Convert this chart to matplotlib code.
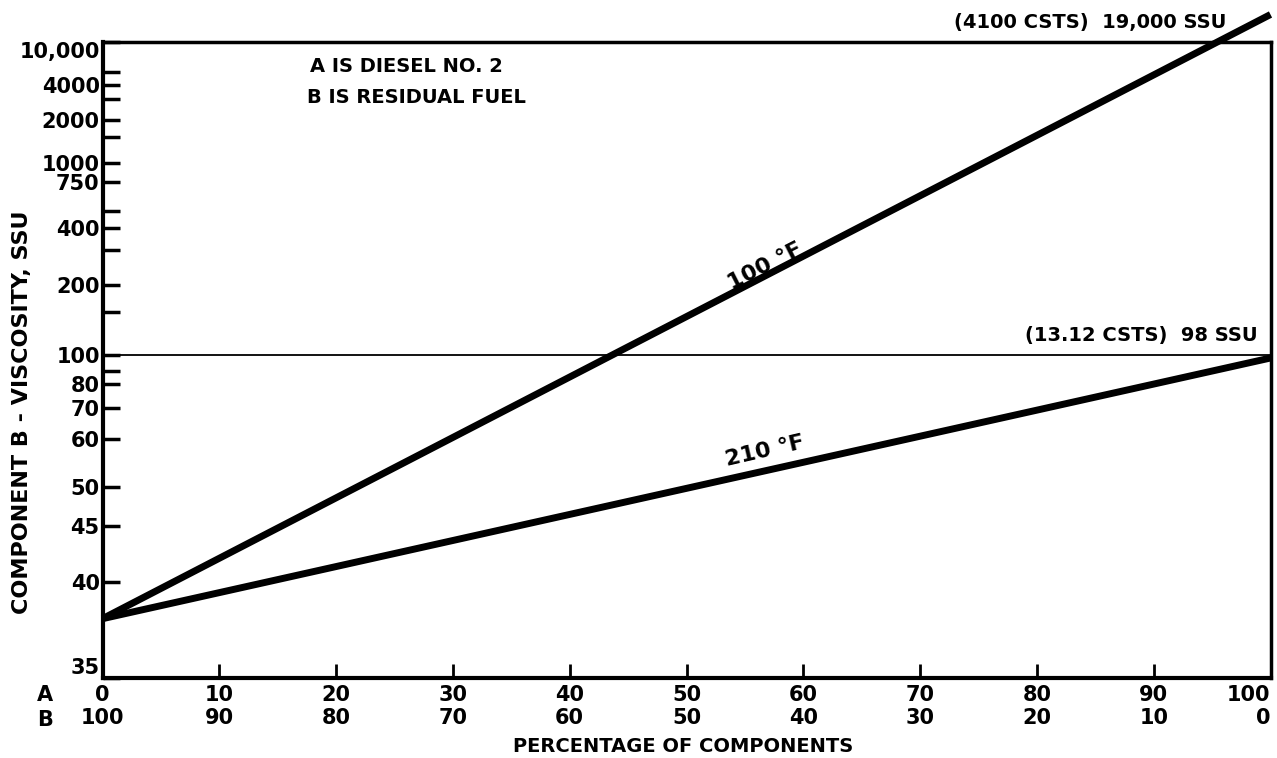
import numpy as np
import matplotlib
matplotlib.use('Agg')
import matplotlib.pyplot as plt
from matplotlib.ticker import FixedLocator, FixedFormatter, NullFormatter

plt.rcParams['font.family'] = ['DejaVu Sans']
plt.rcParams['font.weight'] = 'bold'

# blend percentages (A = diesel no. 2, B = residual fuel = 100 - A)
pct_a = [0, 100]
visc_100f = [38, 19000]   # SSU
visc_210f = [38, 98]      # SSU
ref_line = 100

# graduation of the printed viscosity axis (value -> height above 35 SSU)
scale_values = [35, 40, 45, 50, 60, 70, 80, 90, 100, 150, 200, 300, 400, 500,
                750, 1000, 1500, 2000, 3000, 4000, 5000, 10000]
scale_height = [0, 96.3, 152.3, 191.3, 238.7, 269.7, 294, 307.3, 323, 366.3, 393,
                428, 449.7, 467, 495.7, 514.7, 541.3, 558, 578.7, 593, 606.3, 636]

major_ticks = [35, 40, 45, 50, 60, 70, 80, 100, 200, 400, 750, 1000, 2000, 4000, 10000]
major_labels = ['35', '40', '45', '50', '60', '70', '80', '100', '200', '400', '750',
                '1000', '2000', '4000', '10,000']
minor_ticks = [90, 150, 300, 500, 1500, 3000, 5000]

x_ticks = list(range(0, 101, 10))

LOGS = np.log10(scale_values)
H = np.array(scale_height, dtype=float)
s_lo = (H[1] - H[0]) / (LOGS[1] - LOGS[0])
s_hi = (H[-1] - H[-2]) / (LOGS[-1] - LOGS[-2])


def fwd(v):
    lv = np.log10(np.clip(np.asarray(v, dtype=float), 1e-6, None))
    out = np.interp(lv, LOGS, H)
    out = np.where(lv > LOGS[-1], H[-1] + (lv - LOGS[-1]) * s_hi, out)
    out = np.where(lv < LOGS[0], H[0] + (lv - LOGS[0]) * s_lo, out)
    return out


def inv(h):
    h = np.asarray(h, dtype=float)
    lv = np.interp(h, H, LOGS)
    lv = np.where(h > H[-1], LOGS[-1] + (h - H[-1]) / s_hi, lv)
    lv = np.where(h < H[0], LOGS[0] + (h - H[0]) / s_lo, lv)
    return 10 ** lv


fig = plt.figure(figsize=(12.77, 7.58), dpi=100)
ax = fig.add_axes([102.5 / 1277, 1 - 678 / 758, 1168 / 1277, 636 / 758])

ax.set_yscale('function', functions=(fwd, inv))
ax.set_xlim(0, 100)
ax.set_ylim(35, 10000)

ax.plot(pct_a, visc_100f, color='black', lw=5, solid_capstyle='butt', clip_on=False, zorder=3)
ax.plot(pct_a, visc_210f, color='black', lw=5, solid_capstyle='butt', zorder=3)
ax.axhline(ref_line, color='black', lw=1.3)

ax.yaxis.set_major_locator(FixedLocator(major_ticks))
ax.yaxis.set_major_formatter(FixedFormatter(major_labels))
ax.yaxis.set_minor_locator(FixedLocator(minor_ticks))
ax.yaxis.set_minor_formatter(NullFormatter())
ax.tick_params(axis='y', which='both', direction='in', length=12, width=2.5,
               labelsize=15, pad=2)

ax.set_xticks(x_ticks)
ax.set_xticklabels([f'{a}\n{100 - a}' for a in x_ticks], linespacing=1.2)
ax.tick_params(axis='x', direction='in', length=10, width=2, labelsize=15, pad=5)

for lab in ax.get_yticklabels():
    if lab.get_text() == '10,000':
        lab.set_va('top')
    elif lab.get_text() == '35':
        lab.set_va('bottom')
last = ax.get_xticklabels()[-1]
last.set_ha('right')
last.set_multialignment('right')

for side, w in [('left', 3), ('bottom', 3), ('top', 2.5), ('right', 2.5)]:
    ax.spines[side].set_linewidth(w)

ax.text(0.1777, 0.9607, 'A IS DIESEL NO. 2', transform=ax.transAxes, fontsize=14,
        ha='left', va='center')
ax.text(0.1755, 0.9135, 'B IS RESIDUAL FUEL', transform=ax.transAxes, fontsize=14,
        ha='left', va='center')

ax.text(0.5675, 0.647, '100 °F', transform=ax.transAxes, fontsize=16,
        rotation=27, ha='center', va='center')
ax.text(0.567, 0.357, '210 °F', transform=ax.transAxes, fontsize=16,
        rotation=13, ha='center', va='center')

ax.annotate('(4100 CSTS)  19,000 SSU', xy=(pct_a[-1], visc_100f[-1]), xycoords='data',
            xytext=(-32, -5.5), textcoords='offset points', ha='right', va='center',
            fontsize=14, annotation_clip=False)
ax.annotate('(13.12 CSTS)  98 SSU', xy=(pct_a[-1], visc_210f[-1]), xycoords='data',
            xytext=(-9, 16.5), textcoords='offset points', ha='right', va='center',
            fontsize=14)

fig.text(45 / 1277, 1 - 695 / 758, 'A', fontsize=15, ha='center', va='center')
fig.text(45 / 1277, 1 - 720 / 758, 'B', fontsize=15, ha='center', va='center')
fig.text(683 / 1277, 1 - 747 / 758, 'PERCENTAGE OF COMPONENTS', fontsize=14,
         ha='center', va='center')
fig.text(22 / 1277, 1 - 412 / 758, 'COMPONENT B - VISCOSITY, SSU', fontsize=16,
         rotation=90, ha='center', va='center')

fig.savefig('out.png', dpi=100)
